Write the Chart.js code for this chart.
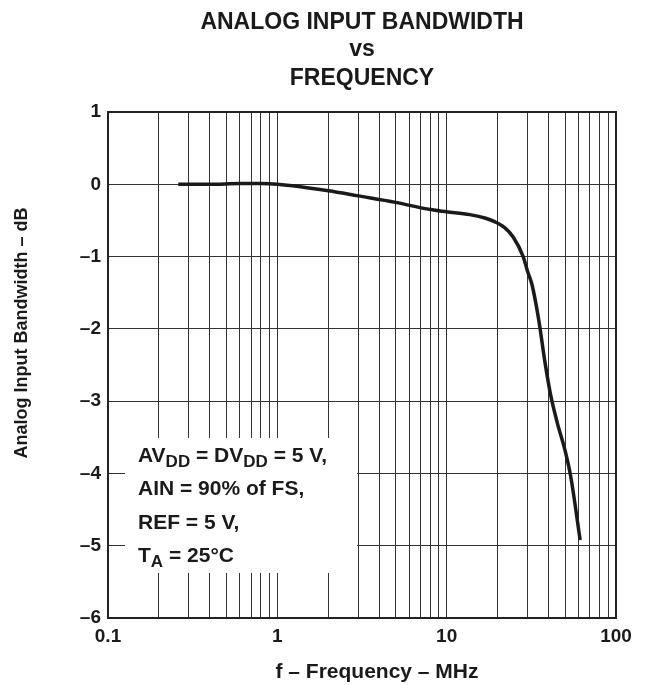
<!DOCTYPE html>
<html>
<head>
<meta charset="utf-8">
<script src="https://cdn.jsdelivr.net/npm/chart.js@4"></script>
<style>
  html, body { margin: 0; padding: 0; background: #fff; }
  canvas { display: block; }
</style>
</head>
<body>
<canvas id="bwChart" width="646" height="685"></canvas>
<script>
// values
const freqMHz = [0.26, 0.4, 0.6, 0.8, 1, 2, 3, 5, 8, 10, 13.7, 17, 19.3, 22, 24.7, 28.3, 30, 32, 35, 38, 41, 45, 50, 54, 61.4];
const gainDb  = [0, 0, 0.01, 0.01, 0, -0.09, -0.16, -0.25, -0.35, -0.38, -0.42, -0.47, -0.52, -0.6, -0.73, -1.0, -1.2, -1.4, -1.88, -2.45, -2.9, -3.3, -3.68, -4.04, -4.92];
const xLabels = [0.1, 1, 10, 100];
const yTicks = [1, 0, -1, -2, -3, -4, -5, -6];
const titleLines = ['ANALOG INPUT BANDWIDTH', 'vs', 'FREQUENCY'];

const FONT = '"Liberation Sans", Arial, sans-serif';
const INK = '#1a1a1a';

// decade grid 0.1 .. 100
const xTicks = [];
[0.1, 1, 10].forEach(d => { for (let i = 1; i < 10; i++) xTicks.push(+(d * i).toPrecision(3)); });
xTicks.push(100);

const decorPlugin = {
    id: 'decor',
    beforeDatasetsDraw(chart) {
        const ctx = chart.ctx;
        // condition box over the grid
        ctx.save();
        ctx.fillStyle = '#fff';
        ctx.fillRect(125, 438, 232, 135);
        ctx.fillStyle = INK;
        const big = 'bold 21px ' + FONT, small = 'bold 17px ' + FONT;
        const rows = [
            [['AV', 0], ['DD', 1], [' = DV', 0], ['DD', 1], [' = 5 V,', 0]],
            [['AIN = 90% of FS,', 0]],
            [['REF = 5 V,', 0]],
            [['T', 0], ['A', 1], [' = 25\u00B0C', 0]]
        ];
        const baselines = [462, 495, 529, 562];
        rows.forEach((row, r) => {
            let x = 138;
            const y = baselines[r];
            row.forEach(([t, sub]) => {
                ctx.font = sub ? small : big;
                ctx.fillText(t, x, sub ? y + 5 : y);
                x += ctx.measureText(t).width;
            });
        });
        ctx.restore();
    },
    afterDraw(chart) {
        const ctx = chart.ctx;
        const a = chart.chartArea;
        ctx.save();
        // frame
        ctx.strokeStyle = '#222';
        ctx.lineWidth = 2;
        ctx.strokeRect(a.left, a.top, a.right - a.left, a.bottom - a.top);
        ctx.fillStyle = INK;
        ctx.textAlign = 'center';
        ctx.textBaseline = 'alphabetic';
        ctx.font = 'bold 23px ' + FONT;
        [28.5, 56, 85].forEach((y, i) => ctx.fillText(titleLines[i], (a.left + a.right) / 2, y));
        ctx.font = 'bold 21px ' + FONT;
        ctx.fillText('f \u2013 Frequency \u2013 MHz', 377, 678);
        ctx.translate(22, 333);
        ctx.rotate(-Math.PI / 2);
        ctx.textBaseline = 'middle';
        ctx.font = 'bold 18px ' + FONT;
        ctx.fillText('Analog Input Bandwidth \u2013 dB', 0, 0);
        ctx.restore();
    }
};

const ctx = document.getElementById('bwChart').getContext('2d');
const bwChart = new Chart(ctx, {
    type: 'line',
    data: {
        datasets: [{
            data: freqMHz.map((f, i) => ({ x: f, y: gainDb[i] })),
            borderColor: INK,
            borderWidth: 3.5,
            pointRadius: 0,
            cubicInterpolationMode: 'monotone',
            fill: false
        }]
    },
    options: {
        responsive: false,
        animation: false,
        layout: { padding: { top: 112, right: 30, left: 0, bottom: 0 } },
        plugins: {
            legend: { display: false },
            tooltip: { enabled: false }
        },
        scales: {
            x: {
                type: 'logarithmic',
                min: 0.1,
                max: 100,
                afterBuildTicks: axis => { axis.ticks = xTicks.map(v => ({ value: v })); },
                afterFit: axis => { axis.height = 67; },
                grid: { color: '#333', lineWidth: 1, drawTicks: false },
                border: { color: '#222', width: 2 },
                ticks: {
                    autoSkip: false,
                    maxRotation: 0,
                    padding: 7,
                    color: INK,
                    font: { family: FONT, size: 19, weight: 'bold' },
                    callback: v => xLabels.includes(v) ? String(v) : ''
                }
            },
            y: {
                min: -6,
                max: 1,
                afterBuildTicks: axis => { axis.ticks = yTicks.map(v => ({ value: v })); },
                afterFit: axis => { axis.width = 108; },
                grid: { color: '#333', lineWidth: 1, drawTicks: false },
                border: { color: '#222', width: 2 },
                ticks: {
                    padding: 7,
                    color: INK,
                    font: { family: FONT, size: 19, weight: 'bold' },
                    callback: v => v < 0 ? '\u2013' + Math.abs(v) : String(v)
                }
            }
        }
    },
    plugins: [decorPlugin]
});
</script>
</body>
</html>
